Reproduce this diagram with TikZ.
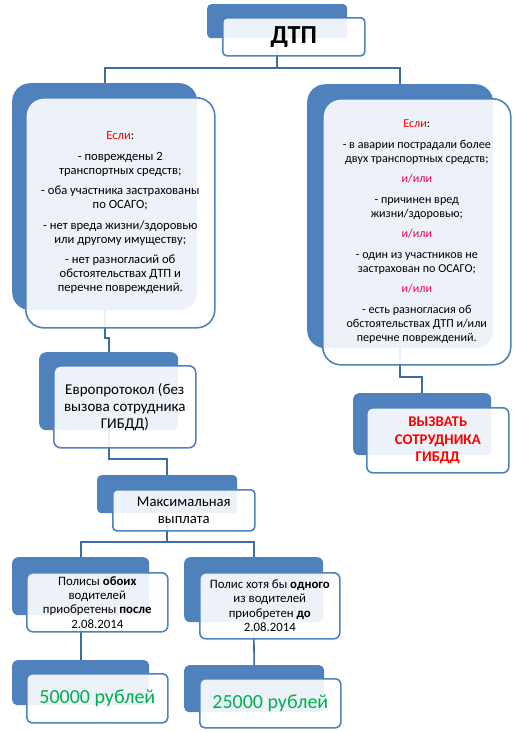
\documentclass[tikz,border=0pt]{standalone}
\usepackage{fontspec}
\setmainfont{Carlito}
\definecolor{sablue}{HTML}{4F81BD}
\definecolor{connblue}{HTML}{3C6CA6}
\definecolor{orred}{HTML}{F0005A}
\definecolor{sagreen}{HTML}{00B050}
\tikzset{
  bbox/.style={fill=sablue, draw=none, rounded corners=#1, anchor=north west, inner sep=0pt},
  wbox/.style={fill=white, fill opacity=0.9, text opacity=1, draw=sablue, draw opacity=1,
    line width=1.6pt, rounded corners=#1, anchor=north west, inner sep=0pt, align=center},
  conn/.style={draw=connblue, line width=1.6pt},
  mid/.style={font=\fontsize{14.7}{17}\selectfont},
}
\begin{document}
\begin{tikzpicture}[x=1pt,y=-1pt]
\useasboundingbox (0,0) rectangle (521,732);
% blue back boxes
\node[bbox=4, minimum width=140, minimum height=34] (bDTP) at (207,4) {};
\node[bbox=18, minimum width=185, minimum height=227] (bL) at (12,83) {};
\node[bbox=18, minimum width=186, minimum height=264] (bR) at (307,84) {};
\node[bbox=7, minimum width=139, minimum height=78] (bE) at (39,352) {};
\node[bbox=6, minimum width=138, minimum height=62] (bV) at (353,393) {};
\node[bbox=4, minimum width=140, minimum height=38] (bM) at (97,475) {};
\node[bbox=6, minimum width=137, minimum height=58] (bP1) at (12,557) {};
\node[bbox=6, minimum width=139, minimum height=65] (bP2) at (184,557) {};
\node[bbox=5, minimum width=137, minimum height=45] (bS1) at (12,660) {};
\node[bbox=5, minimum width=140, minimum height=47] (bS2) at (184,665) {};
% junction coordinates
\coordinate (jA) at (0,68);
\coordinate (jB) at (0,338);
\coordinate (jC) at (0,459);
\coordinate (jD) at (0,542);
\coordinate (jE) at (0,377);
% connectors
\draw[conn] (bDTP.south) -- (bDTP.south |- jA) -| (bL.north);
\draw[conn] (bDTP.south |- jA) -| (bR.north);
\draw[conn] (bL.south) -- (bL.south |- jB) -| (bE.north);
\draw[conn] (bE.south) -- (bE.south |- jC) -| (bM.north);
\draw[conn] (bM.south) -- (bM.south |- jD) -| (bP1.north);
\draw[conn] (bM.south |- jD) -| (bP2.north);
\draw[conn] (bP1.south) -- (bS1.north);
\draw[conn] (bP2.south) -- (bS2.north);
\draw[conn] (bR.south) -- (bR.south |- jE) -| (bV.north);
% white front boxes
\node[wbox=4, minimum width=142, minimum height=38, font=\fontsize{26}{30}\selectfont\bfseries] (wDTP) at (222,17) {ДТП};
\node[wbox=18, minimum width=189, minimum height=230, font=\fontsize{12.6}{14}\selectfont] (wL) at (25,97) {%
{\color{red}Если}:\\[6.5pt]
- повреждены 2\\ транспортных средств;\\[6.5pt]
- оба участника застрахованы\\ по ОСАГО;\\[6.5pt]
- нет вреда жизни/здоровью\\ или другому имуществу;\\[6.5pt]
- нет разногласий об\\ обстоятельствах ДТП и\\ перечне повреждений.};
\node[wbox=18, minimum width=188, minimum height=266, font=\fontsize{12.1}{14}\selectfont] (wR) at (322,98) {%
{\color{red}Если}:\\[6.5pt]
- в аварии пострадали более\\ двух транспортных средств;\\[6.5pt]
{\color{orred}и/или}\\[6.5pt]
- причинен вред\\ жизни/здоровью;\\[6.5pt]
{\color{orred}и/или}\\[6.5pt]
- один из участников не\\ застрахован по ОСАГО;\\[6.5pt]
{\color{orred}и/или}\\[6.5pt]
- есть разногласия об\\ обстоятельствах ДТП и/или\\ перечне повреждений.};
\node[wbox=7, minimum width=142, minimum height=82, font=\fontsize{15}{17}\selectfont] (wE) at (53,365) {Европротокол (без\\ вызова сотрудника\\ ГИБДД)};
\node[wbox=6, minimum width=142, minimum height=65, font=\fontsize{14.8}{17.5}\selectfont\bfseries, text=red] (wV) at (366,407) {ВЫЗВАТЬ\\ СОТРУДНИКА\\ ГИБДД};
\node[wbox=4, minimum width=142, minimum height=41, mid] (wM) at (112,489) {Максимальная\\ выплата};
\node[wbox=6, minimum width=141, minimum height=59, font=\fontsize{12.8}{14.3}\selectfont] (wP1) at (26,572) {Полисы \textbf{обоих}\\ водителей\\ приобретены \textbf{после}\\ 2.08.2014};
\node[wbox=6, minimum width=140, minimum height=66, font=\fontsize{12.8}{14.3}\selectfont] (wP2) at (199,572) {Полис хотя бы \textbf{одного}\\ из водителей\\ приобретен \textbf{до}\\ 2.08.2014};
\node[wbox=5, minimum width=141, minimum height=49, font=\fontsize{20}{24}\selectfont, text=sagreen] (wS1) at (26,673) {50000 рублей};
\node[wbox=5, minimum width=141, minimum height=49, font=\fontsize{20}{24}\selectfont, text=sagreen] (wS2) at (199,678) {25000 рублей};
\end{tikzpicture}
\end{document}
